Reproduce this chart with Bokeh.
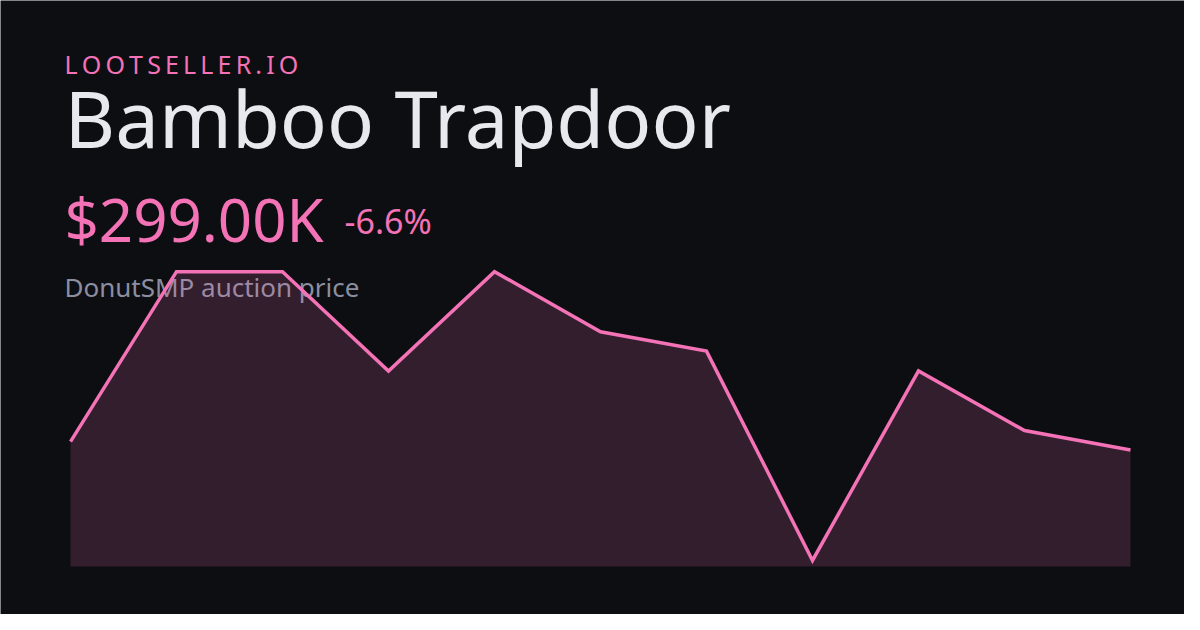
from bokeh.plotting import figure
from bokeh.models import Range1d, Label, ColumnDataSource
from bokeh.embed import file_html
from bokeh.resources import INLINE

# ---- data ----
days = list(range(11))
prices_k = [308.0, 492.0, 492.0, 384.5, 492.0, 427.0, 406.0, 179.5, 384.5, 320.0, 299.0]
brand = "LOOTSELLER.IO"
item_name = "Bamboo Trapdoor"
price_label = "$299.00K"
change_label = "-6.6%"
subtitle = "DonutSMP auction price"

BG = "#0d0e11"
PINK = "#f472b6"
WHITE = "#e8e9ee"
GREY = "#8b8ea0"
FONT = "Noto Sans"

W, H = 1184, 614

p = figure(width=W, height=H, output_backend="svg", toolbar_location=None,
           x_range=Range1d(-0.6604, 10.5094), y_range=Range1d(121.0, 785.4),
           min_border=0, background_fill_color=BG, border_fill_color=BG)
p.axis.visible = False
p.grid.visible = False
p.outline_line_color = None

src = ColumnDataSource(dict(x=days, y=prices_k, base=[173.0] * len(days)))
p.varea(x="x", y1="base", y2="y", source=src, fill_color=PINK, fill_alpha=0.17)
p.line(x="x", y="y", source=src, line_color=PINK, line_width=3.5, line_join="miter")

def lab(text, x, y, size, color):
    l = Label(x=x, y=y, x_units="screen", y_units="screen", text=text,
              text_font=FONT, text_font_size=f"{size}px", text_color=color,
              text_baseline="alphabetic", text_align="left", level="underlay")
    p.add_layout(l)

spaced = "\u2009".join(brand)
lab(spaced, 64, 550.75, 25, PINK)
lab(item_name, 64, 496.5, 78, WHITE)
lab(price_label, 64, 395.8, 60, PINK)
lab(change_label, 344, 393.6, 34, PINK)
lab(subtitle, 64, 327.2, 26, GREY)

open("out.html", "w").write(file_html(p, INLINE))
